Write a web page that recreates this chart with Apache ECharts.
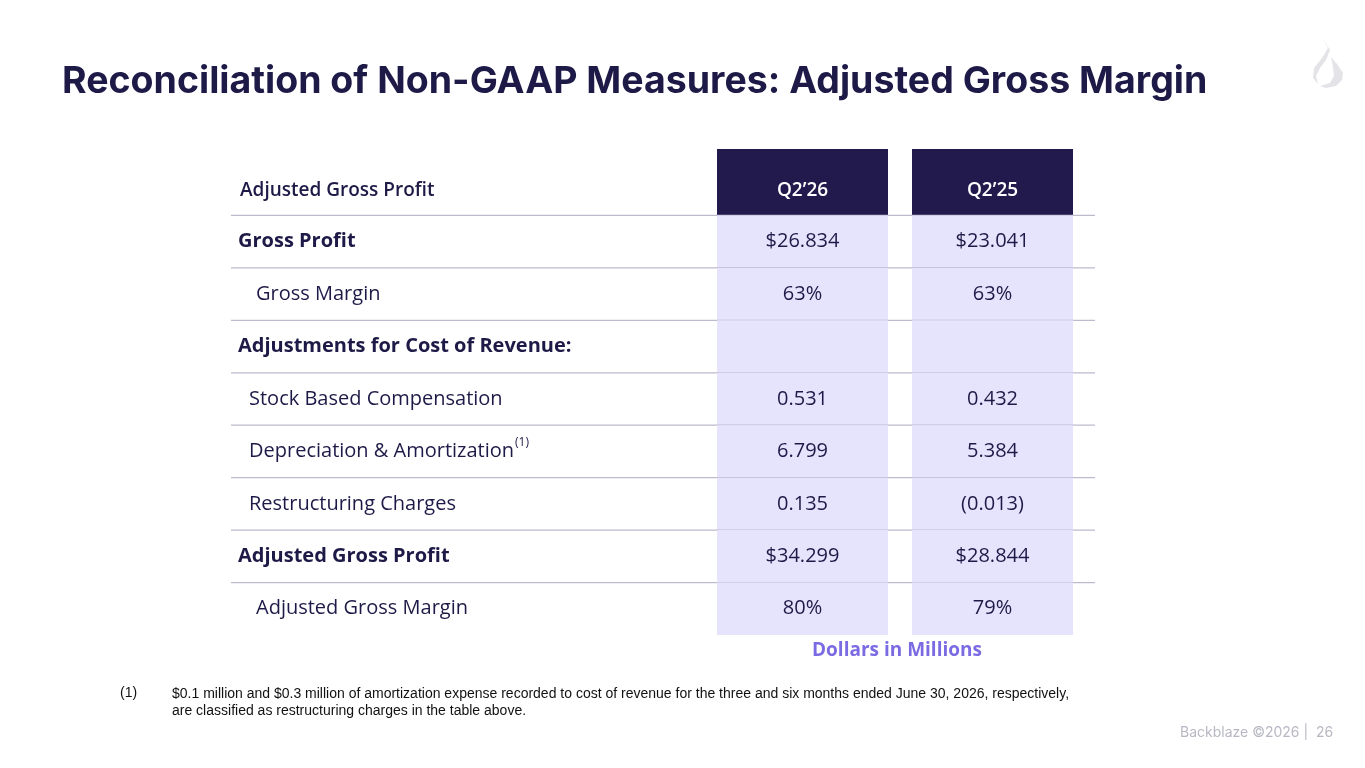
<!DOCTYPE html><html><head><meta charset="utf-8">
<script src="https://cdn.jsdelivr.net/npm/echarts@6/dist/echarts.min.js"></script>
<style>html,body{margin:0;padding:0;background:#fff}#c{width:1365px;height:768px}</style></head><body><div id="c"></div>
<script>
const headerLabel = 'Adjusted Gross Profit';
const periods = ['Q2\u201926', 'Q2\u201925'];
const rowLabels = ['Gross Profit','Gross Margin','Adjustments for Cost of Revenue:','Stock Based Compensation','Depreciation & Amortization','Restructuring Charges','Adjusted Gross Profit','Adjusted Gross Margin'];
const rowBold = [true,false,true,false,false,false,true,false];
const rowIndent = [0,18,0,11,11,11,0,18];
const rowNote = ['','','','','(1)','','',''];
const q226 = ['$26.834','63%','','0.531','6.799','0.135','$34.299','80%'];
const q225 = ['$23.041','63%','','0.432','5.384','(0.013)','$28.844','79%'];

const NAVY='#1e1a47', FONT='"Open Sans", "Noto Sans", sans-serif', TFONT='Inter, sans-serif';
const cats = ['header'].concat(rowLabels.map((r,i)=>'r'+i));
const data = cats.map((c,i)=>[0,i]);
const colX=[[717,888],[912,1073]];
const mctx=document.createElement('canvas').getContext('2d');
function T(text,x,y,size,weight,fill,align){
  return {type:'text',style:{text,x,y,align:align||'left',verticalAlign:'middle',fontSize:size,fontWeight:weight,fontFamily:FONT,fill}};
}
function renderItem(params, api){
  const i = api.value(1);
  const c = api.coord([0,i]);
  const h = api.size([0,1])[1];
  const top=c[1]-h/2, bot=c[1]+h/2;
  const ch=[];
  const x0=231, x1=1095;
  if(i===0){
    colX.forEach((cx,k)=>{
      ch.push({type:'rect',shape:{x:cx[0],y:149,width:cx[1]-cx[0],height:bot-149},style:{fill:'#221a4d'}});
      ch.push(T(periods[k],(cx[0]+cx[1])/2,191,19,600,'#fff','center'));
    });
    ch.push(T(headerLabel,240,191,19,600,NAVY));
  } else {
    const r=i-1;
    colX.forEach((cx,k)=>{
      ch.push({type:'rect',shape:{x:cx[0],y:top,width:cx[1]-cx[0],height:h},style:{fill:'#e6e3fd'}});
      ch.push(T((k?q225:q226)[r],(cx[0]+cx[1])/2,c[1],20,400,NAVY,'center'));
    });
    const lx=238+rowIndent[r];
    ch.push(T(rowLabels[r],lx,c[1],20,rowBold[r]?700:400,NAVY));
    if(rowNote[r]){
      mctx.font='400 20px '+FONT;
      const w=mctx.measureText(rowLabels[r]).width;
      ch.push(T(rowNote[r],lx+w+1,c[1]-9,12,400,NAVY));
    }
  }
  if(i<cats.length-1) ch.push({type:'line',shape:{x1:x0,y1:bot,x2:x1,y2:bot},style:{stroke:'#bdbacd',lineWidth:1.2}});
  return {type:'group',children:ch};
}
const chart=echarts.init(document.getElementById('c'));
chart.setOption({
  animation:false,
  grid:{left:231,right:270,top:163,bottom:133},
  xAxis:{type:'value',min:0,max:1,show:false},
  yAxis:{type:'category',data:cats,inverse:true,show:false},
  series:[{type:'custom',renderItem,data,clip:false}],
  graphic:[
    {type:'text',x:62,y:63,style:{text:'Reconciliation of Non-GAAP Measures: Adjusted Gross Margin',fontSize:37.5,fontWeight:700,fontFamily:TFONT,fill:NAVY}},
    {type:'text',x:812,y:641,style:{text:'Dollars in Millions',fontSize:19,fontWeight:700,fontFamily:FONT,fill:'#7b6be3'}},
    {type:'text',x:120,y:686,style:{text:'(1)',fontSize:14,fontFamily:'Arial, "Liberation Sans"',fill:'#111'}},
    {type:'text',x:172,y:686,style:{text:'$0.1 million and $0.3 million of amortization expense recorded to cost of revenue for the three and six months ended June 30, 2026, respectively,\nare classified as restructuring charges in the table above.',fontSize:14,fontFamily:'Arial, "Liberation Sans"',fill:'#111',lineHeight:17}},
    {type:'text',x:1180,y:726,style:{text:'Backblaze \u00a92026 |  26',fontSize:14,fontFamily:TFONT,fill:'#b8b8c4'}},
    {type:'polygon',shape:{points:[[1322,37],[1328,48],[1322,58],[1314,68],[1313,78],[1318,84],[1316,76],[1320,68],[1326,60],[1330,50]]},style:{fill:'#e4e4e8'}},
    {type:'polygon',shape:{points:[[1331,57],[1337,64],[1343,73],[1342,80],[1336,86],[1326,88],[1320,86],[1330,83],[1334,76],[1333,67]]},style:{fill:'#e4e4e8'}}
  ]
});
</script></body></html>
